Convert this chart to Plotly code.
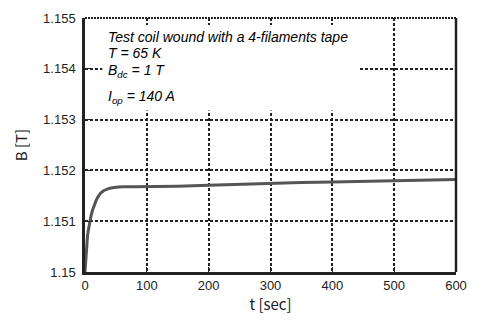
import plotly.graph_objects as go

t_sec = [0, 1, 2, 3, 4, 5, 6, 8, 10, 12, 15, 18, 21, 25, 30, 35, 40, 50, 60, 80,
         100, 150, 200, 250, 300, 350, 400, 450, 500, 550, 600]
b_tesla = [1.15000, 1.15025, 1.15040, 1.15058, 1.15070, 1.15080, 1.15088, 1.15100,
           1.15112, 1.15121, 1.15132, 1.15141, 1.15148, 1.15155, 1.15160, 1.15163,
           1.15165, 1.15167, 1.15168, 1.15168, 1.15168, 1.15169, 1.15171, 1.15173,
           1.15175, 1.15176, 1.15177, 1.15178, 1.15179, 1.15181, 1.15182]

x_ticks = [0, 100, 200, 300, 400, 500, 600]
y_ticks = [1.150, 1.151, 1.152, 1.153, 1.154, 1.155]
y_tick_text = ["1.15", "1.151", "1.152", "1.153", "1.154", "1.155"]

info_lines = [
    "Test coil wound with a 4-filaments tape",
    "T = 65 K",
    "B<sub>dc</sub> = 1 T",
    "I<sub>op</sub> = 140 A",
]
info_y = [1.154620, 1.154315, 1.153960, 1.153440]

fig = go.Figure()
fig.add_trace(go.Scatter(x=t_sec, y=b_tesla, mode="lines",
                         line=dict(color="#555555", width=3), showlegend=False))

fig.add_shape(type="rect", xref="x", yref="y", x0=28, x1=443, y0=1.15318, y1=1.15486,
              fillcolor="white", line=dict(width=0), layer="above")

for txt, yy in zip(info_lines, info_y):
    fig.add_annotation(x=34, y=yy, xref="x", yref="y", text=txt, showarrow=False,
                       xanchor="left", yanchor="middle",
                       font=dict(family="Liberation Sans, Arial", size=14, color="black", style="italic"))

font_ticks = dict(family="Liberation Sans, Arial", size=13, color="#222222")

fig.update_layout(
    width=478, height=321,
    margin=dict(l=85, r=11, t=17, b=43),
    paper_bgcolor="white", plot_bgcolor="white",
    xaxis=dict(range=[0, 600], tickvals=x_ticks, showline=True, linecolor="#222222",
               linewidth=2.5, mirror=False, ticks="inside", ticklen=5, tickcolor="#222222",
               showgrid=True, gridcolor="#222222", griddash="3px,2px", gridwidth=2,
               zeroline=False, tickfont=font_ticks,
               title=dict(text="t [sec]", font=dict(family="Noto Sans CJK JP", size=15, color="#222222"), standoff=6)),
    yaxis=dict(range=[1.150, 1.155], tickvals=y_ticks, ticktext=y_tick_text, showline=True,
               linecolor="#222222", linewidth=2.5, mirror=False, ticks="inside", ticklen=5,
               tickcolor="#222222", showgrid=True, gridcolor="#222222", griddash="3px,2px",
               gridwidth=2, zeroline=False, tickfont=font_ticks, ticklabelstandoff=4,
               title=dict(text="B [T]", font=dict(family="Noto Sans CJK JP", size=15, color="#222222"), standoff=12)),
)

# right border solid, top border dotted
fig.add_shape(type="line", xref="paper", yref="paper", x0=1, x1=1, y0=0, y1=1,
              line=dict(color="#222222", width=2.5))
fig.add_shape(type="line", xref="paper", yref="paper", x0=0, x1=1, y0=1, y1=1,
              line=dict(color="#222222", width=2, dash="2px,1px"))

fig.write_html("out.html")
